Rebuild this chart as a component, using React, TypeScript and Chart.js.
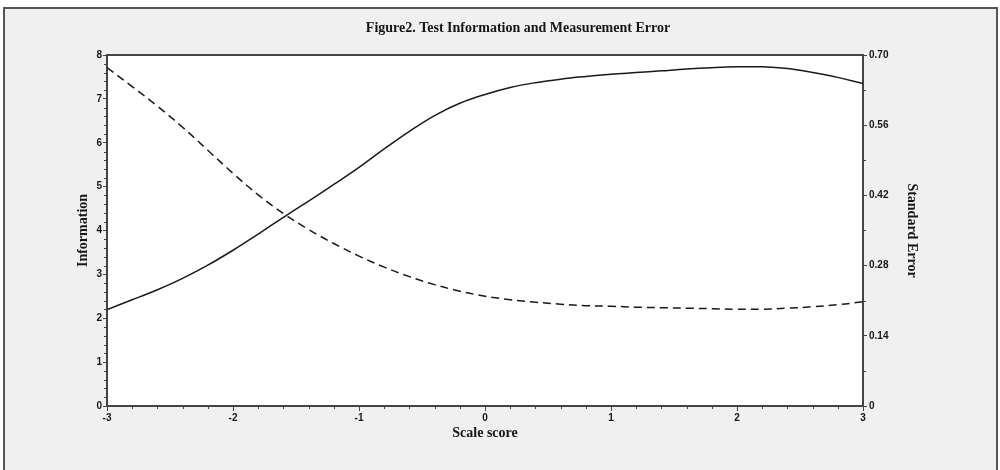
import React, { useEffect, useRef } from "react";
import { Chart, registerables } from "chart.js";

Chart.register(...registerables);

const chartTitle = "Figure2. Test Information and Measurement Error";
const xAxisTitle = "Scale score";
const leftAxisTitle = "Information";
const rightAxisTitle = "Standard Error";

const scaleScores = [
  -3.0, -2.8, -2.6, -2.4, -2.2, -2.0, -1.8, -1.6, -1.4, -1.2, -1.0, -0.8, -0.6, -0.4, -0.2,
  0.0, 0.2, 0.4, 0.6, 0.8, 1.0, 1.2, 1.4, 1.6, 1.8, 2.0, 2.2, 2.4, 2.6, 2.8, 3.0,
];
const information = [
  2.2, 2.42, 2.65, 2.91, 3.21, 3.55, 3.92, 4.3, 4.67, 5.05, 5.44, 5.86, 6.26, 6.62, 6.9,
  7.1, 7.26, 7.37, 7.45, 7.51, 7.56, 7.6, 7.64, 7.68, 7.71, 7.73, 7.73, 7.69, 7.6, 7.49, 7.35,
];
const standardError = [
  0.675, 0.637, 0.598, 0.556, 0.51, 0.464, 0.421, 0.384, 0.352, 0.324, 0.299, 0.277, 0.258, 0.242, 0.229,
  0.219, 0.212, 0.207, 0.203, 0.2, 0.199, 0.197, 0.196, 0.195, 0.194, 0.193, 0.193, 0.195, 0.198, 0.202, 0.208,
];

const xTickValues = [-3, -2, -1, 0, 1, 2, 3];
const infoTickValues = [0, 1, 2, 3, 4, 5, 6, 7, 8];
const seTickValues = [0, 0.14, 0.28, 0.42, 0.56, 0.7];
const seTickLabels = ["0", "0.14", "0.28", "0.42", "0.56", "0.70"];

const AXIS_COLOR = "#444";
const TEXT_COLOR = "#151515";

const framePlugin = {
  id: "framePlugin",
  beforeDraw(chart: any) {
    const { ctx, chartArea } = chart;
    ctx.save();
    ctx.fillStyle = "#ffffff";
    ctx.fillRect(chartArea.left, chartArea.top, chartArea.right - chartArea.left, chartArea.bottom - chartArea.top);
    ctx.restore();
  },
  afterDraw(chart: any) {
    const { ctx, chartArea, scales } = chart;
    ctx.save();
    ctx.strokeStyle = AXIS_COLOR;
    ctx.lineWidth = 2;
    ctx.beginPath();
    ctx.moveTo(chartArea.left - 1, chartArea.top);
    ctx.lineTo(chartArea.right + 1, chartArea.top);
    ctx.stroke();

    ctx.lineWidth = 1;
    ctx.beginPath();
    for (let i = -15; i <= 15; i++) {
      if (i % 5 === 0) continue;
      const px = Math.round(scales.x.getPixelForValue(i / 5)) + 0.5;
      ctx.moveTo(px, chartArea.bottom);
      ctx.lineTo(px, chartArea.bottom + 3);
    }
    for (let i = 0; i <= 40; i++) {
      if (i % 5 === 0) continue;
      const py = Math.round(scales.y.getPixelForValue(i / 5)) + 0.5;
      ctx.moveTo(chartArea.left - 3, py);
      ctx.lineTo(chartArea.left, py);
    }
    for (let i = 1; i < 10; i += 2) {
      const py = Math.round(scales.y1.getPixelForValue(i * 0.07)) + 0.5;
      ctx.moveTo(chartArea.right, py);
      ctx.lineTo(chartArea.right + 3, py);
    }
    ctx.stroke();

    ctx.fillStyle = TEXT_COLOR;
    ctx.font = "bold 14px 'Liberation Serif'";
    ctx.textAlign = "center";
    ctx.textBaseline = "middle";
    ctx.fillText(chartTitle, 518, 28);
    ctx.restore();
  },
};

const tickFont = { family: "'Liberation Sans'", size: 10, weight: "bold" as const };
const titleFont = { family: "'Liberation Serif'", size: 14, weight: "bold" as const };

export default function App() {
  const canvasRef = useRef<HTMLCanvasElement | null>(null);

  useEffect(() => {
    if (!canvasRef.current) return;
    const chart = new Chart(canvasRef.current, {
      type: "line",
      data: {
        datasets: [
          {
            label: leftAxisTitle,
            data: scaleScores.map((x, i) => ({ x, y: information[i] })),
            yAxisID: "y",
            borderColor: "#1a1a1a",
            borderWidth: 1.5,
            pointRadius: 0,
            tension: 0.4,
            fill: false,
          },
          {
            label: rightAxisTitle,
            data: scaleScores.map((x, i) => ({ x, y: standardError[i] })),
            yAxisID: "y1",
            borderColor: "#1a1a1a",
            borderWidth: 1.5,
            borderDash: [8, 5],
            pointRadius: 0,
            tension: 0.4,
            fill: false,
          },
        ],
      },
      options: {
        responsive: false,
        animation: false,
        layout: { padding: { left: 75, right: 80, top: 55, bottom: 28 } },
        plugins: {
          legend: { display: false },
          tooltip: { enabled: false },
          title: { display: false },
        },
        scales: {
          x: {
            type: "linear",
            min: -3,
            max: 3,
            afterBuildTicks: (s: any) => {
              s.ticks = xTickValues.map((v) => ({ value: v }));
            },
            afterFit: (s: any) => {
              s.height = 36;
            },
            ticks: {
              font: tickFont,
              color: TEXT_COLOR,
              padding: 1,
              maxRotation: 0,
              autoSkip: false,
              callback: (v: any) => String(v),
            },
            grid: { drawOnChartArea: false, drawTicks: true, tickLength: 5, tickColor: AXIS_COLOR, tickWidth: 1 },
            border: { display: true, color: AXIS_COLOR, width: 2 },
            title: { display: true, text: xAxisTitle, font: titleFont, color: TEXT_COLOR, padding: 0 },
          },
          y: {
            type: "linear",
            position: "left",
            min: 0,
            max: 8,
            afterBuildTicks: (s: any) => {
              s.ticks = infoTickValues.map((v) => ({ value: v }));
            },
            afterFit: (s: any) => {
              s.width = 32;
            },
            ticks: { font: tickFont, color: TEXT_COLOR, padding: 1, autoSkip: false, callback: (v: any) => String(v) },
            grid: { drawOnChartArea: false, drawTicks: true, tickLength: 4, tickColor: AXIS_COLOR, tickWidth: 1 },
            border: { display: true, color: AXIS_COLOR, width: 2 },
            title: { display: true, text: leftAxisTitle, font: titleFont, color: TEXT_COLOR, padding: 0 },
          },
          y1: {
            type: "linear",
            position: "right",
            min: 0,
            max: 0.7,
            afterBuildTicks: (s: any) => {
              s.ticks = seTickValues.map((v) => ({ value: v }));
            },
            afterFit: (s: any) => {
              s.width = 57;
            },
            ticks: {
              font: tickFont,
              color: TEXT_COLOR,
              padding: 2,
              autoSkip: false,
              callback: (_v: any, i: number) => seTickLabels[i],
            },
            grid: { drawOnChartArea: false, drawTicks: true, tickLength: 4, tickColor: AXIS_COLOR, tickWidth: 1 },
            border: { display: true, color: AXIS_COLOR, width: 2 },
            title: { display: true, text: rightAxisTitle, font: titleFont, color: TEXT_COLOR, padding: 0 },
          },
        },
      },
      plugins: [framePlugin],
    } as any);
    return () => chart.destroy();
  }, []);

  return (
    <div style={{ position: "fixed", left: 0, top: 0, width: 1000, height: 470, background: "#ffffff", overflow: "hidden" }}>
      <div
        style={{
          position: "absolute",
          left: 3,
          top: 7,
          width: 991,
          height: 470,
          background: "#f0f0f0",
          borderLeft: "2px solid #555",
          borderTop: "2px solid #555",
          borderRight: "2px solid #555",
        }}
      />
      <canvas ref={canvasRef} width={1000} height={470} style={{ position: "absolute", left: 0, top: 0, width: 1000, height: 470 }} />
    </div>
  );
}
